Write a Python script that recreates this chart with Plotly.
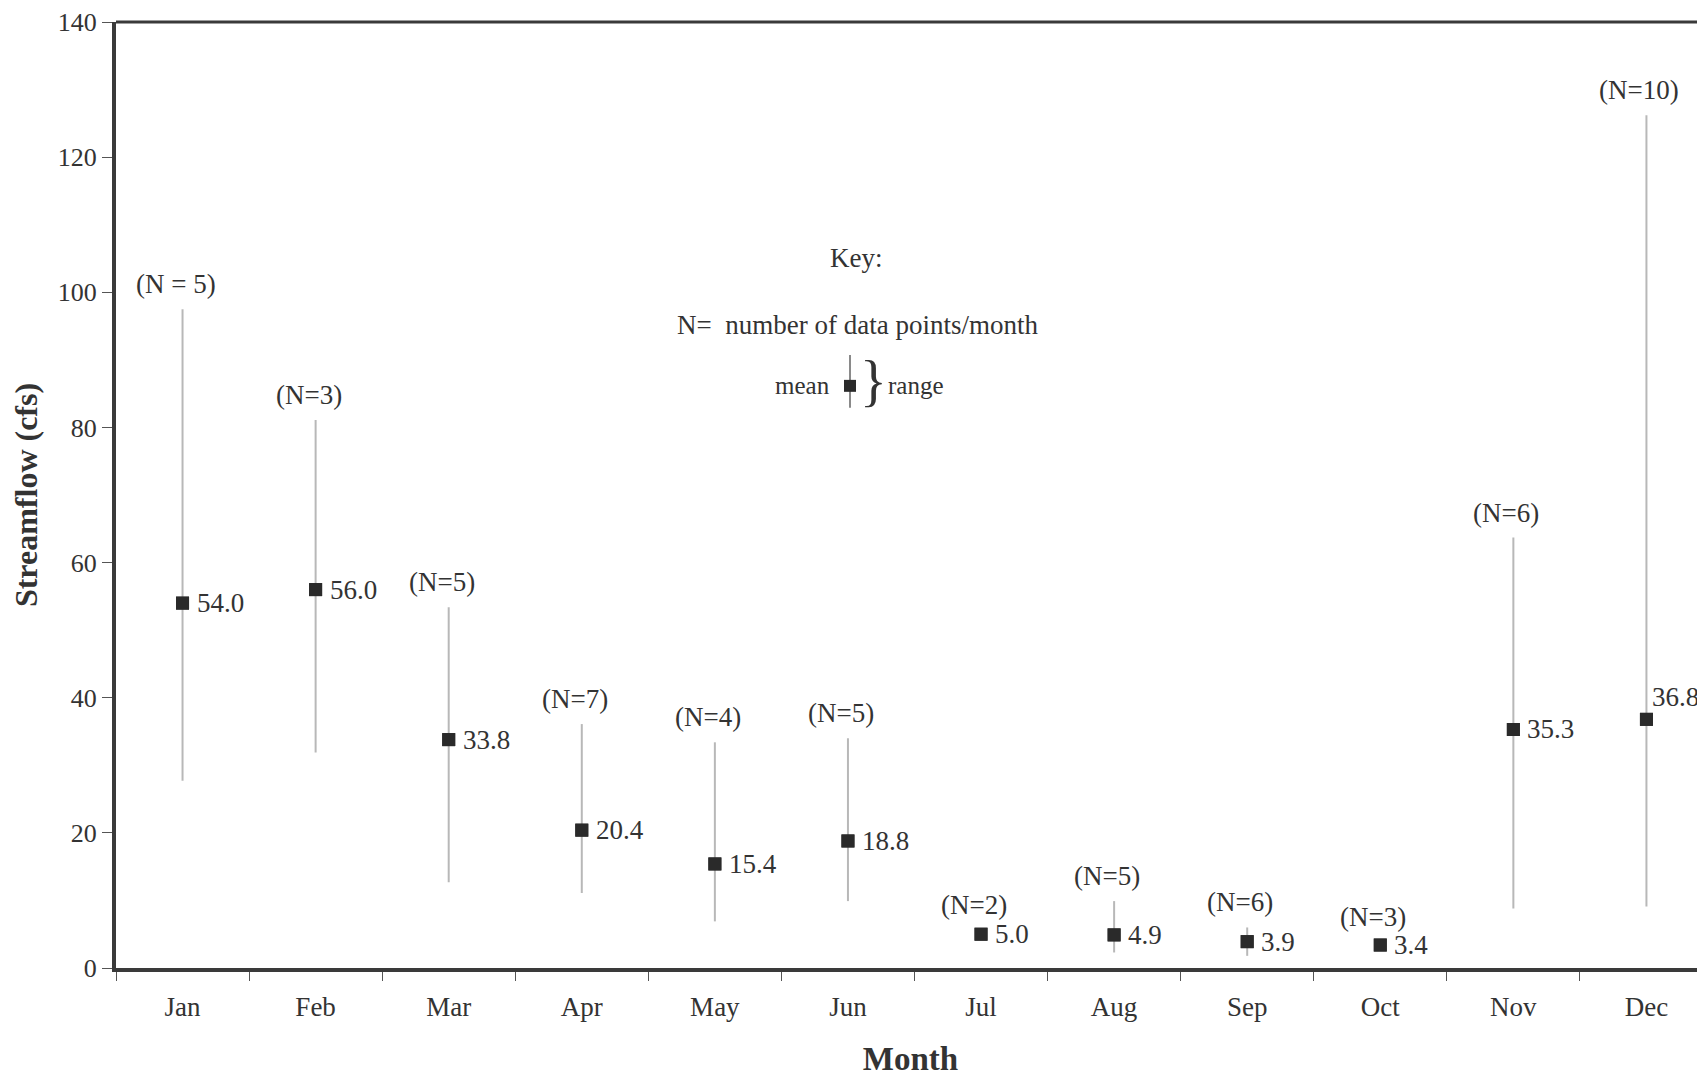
import plotly.graph_objects as go

months = ["Jan", "Feb", "Mar", "Apr", "May", "Jun", "Jul", "Aug", "Sep", "Oct", "Nov", "Dec"]
mean_flow = [54.0, 56.0, 33.8, 20.4, 15.4, 18.8, 5.0, 4.9, 3.9, 3.4, 35.3, 36.8]
max_flow = [97.5, 81.1, 53.4, 36.1, 33.4, 34.0, 5.6, 9.9, 6.0, 3.9, 63.7, 126.2]
min_flow = [27.7, 31.9, 12.7, 11.1, 6.9, 9.9, 4.4, 2.3, 1.8, 2.9, 8.8, 9.1]
n_points = [5, 3, 5, 7, 4, 5, 2, 5, 6, 3, 6, 10]
y_ticks = [0, 20, 40, 60, 80, 100, 120, 140]

FONT = "Liberation Serif"
TXT = "#333333"
OFF = 8  # page body margin
W, H = 1705 - OFF, 1077 - OFF
L, R, T, B = 116 - OFF, 0, 20 - OFF, 108

fig = go.Figure()
fig.add_trace(go.Scatter(
    x=months, y=mean_flow, mode="markers",
    marker=dict(symbol="square", size=13, color="#2a2a2a"),
    error_y=dict(type="data", symmetric=False,
                 array=[mx - m for mx, m in zip(max_flow, mean_flow)],
                 arrayminus=[m - mn for m, mn in zip(mean_flow, min_flow)],
                 width=0, thickness=2, color="#b8b8b8"),
    showlegend=False, cliponaxis=False,
))
fig.add_trace(go.Scatter(
    x=months, y=mean_flow, mode="markers",
    marker=dict(symbol="square", size=13, color="#2a2a2a"),
    showlegend=False, cliponaxis=False,
))

FS = 27
ann = []
for i, (m, v, top, n) in enumerate(zip(months, mean_flow, max_flow, n_points)):
    label = f"(N = {n})" if i == 0 else f"(N={n})"
    ann.append(dict(x=m, y=max(top, v), xref="x", yref="y", text=label, showarrow=False,
                    xanchor="center", yanchor="bottom", xshift=-7, yshift=8,
                    font=dict(family=FONT, size=FS, color=TXT)))
    if m == "Dec":
        ann.append(dict(x=m, y=v, xref="x", yref="y", text=f"{v:.1f}", showarrow=False,
                        xanchor="left", yanchor="middle", xshift=4, yshift=22,
                        font=dict(family=FONT, size=FS, color=TXT)))
    else:
        ann.append(dict(x=m, y=v, xref="x", yref="y", text=f"{v:.1f}", showarrow=False,
                        xanchor="left", yanchor="middle", xshift=12,
                        font=dict(family=FONT, size=FS, color=TXT)))

pw = W - L - R
ph = H - T - B
def px(xp):
    return (xp - OFF - L) / pw
def py(yp):
    return (H - B - (yp - OFF)) / ph

# Key
ann += [
    dict(x=px(856), y=py(257), xref="paper", yref="paper", text="Key:", showarrow=False,
         xanchor="center", yanchor="middle", font=dict(family=FONT, size=FS, color=TXT)),
    dict(x=px(857), y=py(324), xref="paper", yref="paper", text="N=  number of data points/month",
         showarrow=False, xanchor="center", yanchor="middle",
         font=dict(family=FONT, size=FS, color=TXT)),
    dict(x=px(832), y=py(385), xref="paper", yref="paper", text="mean", showarrow=False,
         xanchor="right", yanchor="middle", font=dict(family=FONT, size=25, color=TXT)),
    dict(x=px(873), y=py(380), xref="paper", yref="paper", text="}", showarrow=False,
         xanchor="center", yanchor="middle", font=dict(family=FONT, size=56, color=TXT)),
    dict(x=px(886), y=py(385), xref="paper", yref="paper", text="range", showarrow=False,
         xanchor="left", yanchor="middle", font=dict(family=FONT, size=25, color=TXT)),
]
shapes = [
    dict(type="line", xref="paper", yref="paper", x0=px(850), x1=px(850), y0=py(354), y1=py(407),
         line=dict(color="#8a8a8a", width=2)),
    dict(type="rect", xref="paper", yref="paper", x0=px(844), x1=px(856), y0=py(379), y1=py(391),
         fillcolor="#2a2a2a", line=dict(width=0)),
    dict(type="line", xref="paper", yref="paper", x0=0, x1=1, y0=1, y1=1,
         line=dict(color="#3a3a3a", width=3)),
]

fig.update_layout(
    width=W, height=H,
    margin=dict(l=L, r=R, t=T, b=B),
    paper_bgcolor="white", plot_bgcolor="white",
    annotations=ann, shapes=shapes,
    font=dict(family=FONT, color=TXT),
    xaxis=dict(
        type="category", categoryorder="array", categoryarray=months,
        range=[-0.5, 11.44], tickson="boundaries",
        showline=True, linecolor="#3a3a3a", linewidth=4,
        ticks="outside", ticklen=9, tickcolor="#555", tickwidth=1,
        ticklabelstandoff=12,
        showgrid=False, zeroline=False,
        tickfont=dict(family=FONT, size=FS, color=TXT),
        title=dict(text="<b>Month</b>", font=dict(family=FONT, size=33, color=TXT), standoff=31),
    ),
    yaxis=dict(
        range=[0, 140], tickvals=y_ticks, ticklabeloverflow="allow",
        showline=True, linecolor="#3a3a3a", linewidth=4,
        ticks="outside", ticklen=10, tickcolor="#555", tickwidth=1,
        showgrid=False, zeroline=False,
        tickfont=dict(family=FONT, size=26, color=TXT),
        title=dict(text="<b>Streamflow (cfs)</b>", font=dict(family=FONT, size=32, color=TXT), standoff=18),
    ),
)

fig.write_html("out.html")
